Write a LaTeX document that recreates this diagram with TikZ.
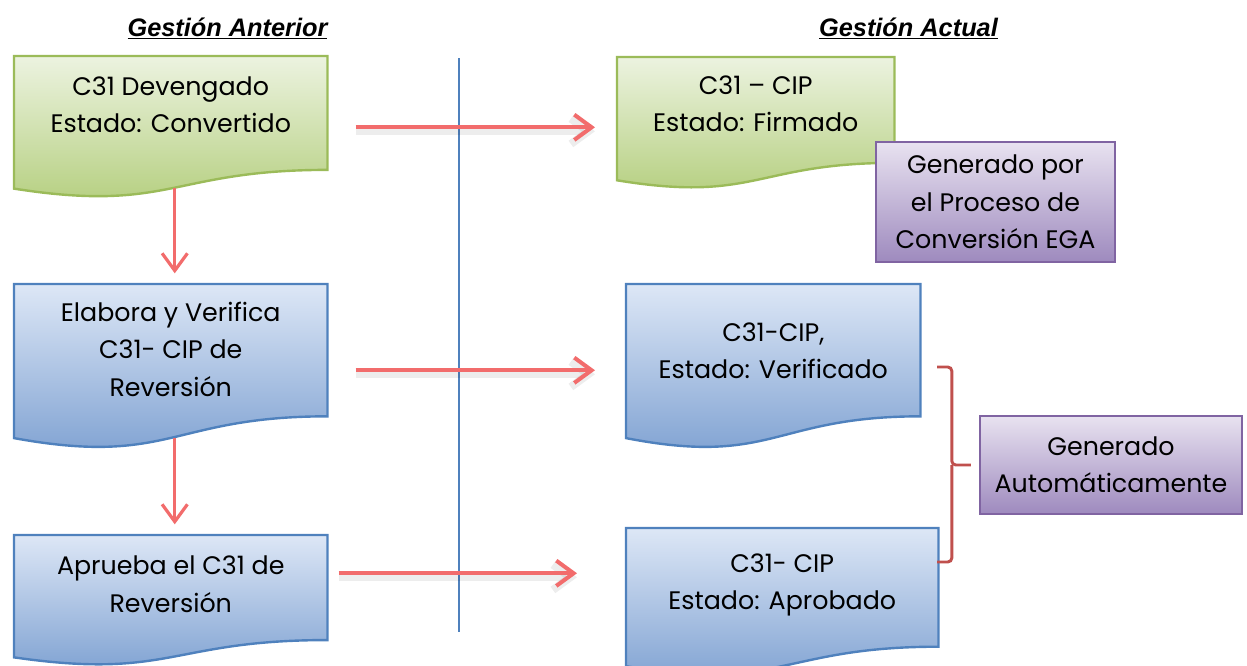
\documentclass[tikz,border=0pt]{standalone}
\usepackage{fontspec}
\setmainfont{Poppins}
\newfontfamily\hdrfont{Liberation Sans}
\usetikzlibrary{arrows.meta,calc,positioning}
\pgfdeclarelayer{bg}
\pgfsetlayers{bg,main}
\definecolor{grnline}{HTML}{9BBB59}
\definecolor{grntop}{RGB}{236,243,224}
\definecolor{grnbot}{RGB}{178,205,122}
\definecolor{bluline}{HTML}{4F81BD}
\definecolor{blutop}{RGB}{221,231,246}
\definecolor{blubot}{RGB}{122,158,208}
\definecolor{purline}{HTML}{8064A2}
\definecolor{purtop}{RGB}{232,226,240}
\definecolor{purbot}{RGB}{158,138,190}
\definecolor{arrred}{RGB}{242,108,108}
\definecolor{brared}{HTML}{C0504D}
\newcommand{\pxu}{0.75pt}
% document shape drawn behind a text node: node, full height, style
\newcommand{\docshape}[3]{%
  \begin{pgfonlayer}{bg}
    \path[#3] (#1.north west) -- (#1.north east) -- ($(#1.north east)+(0,0.802*#2)$)
      .. controls ($(#1.north)+(0,0.802*#2)$) and ($(#1.north)+(0,1.107*#2)$)
      .. ($(#1.north west)+(0,0.934*#2)$) -- cycle;
  \end{pgfonlayer}
  \coordinate (#1 wave) at ($(#1.north)+(0,0.933*#2)$);}

\begin{document}
\begin{tikzpicture}[x=0.75pt,y=-0.75pt,>={Straight Barb[length=13pt,width=19pt]},
    body/.style={anchor=north west,align=center,inner sep=0pt,font=\fontsize{19}{28}\selectfont},
    grndoc/.style={top color=grntop,bottom color=grnbot,draw=grnline,line width=1.8pt},
    bludoc/.style={top color=blutop,bottom color=blubot,draw=bluline,line width=1.8pt},
    genbox/.style={rectangle,top color=purtop,bottom color=purbot,draw=purline,line width=1.8pt,
      align=center,inner sep=0pt,font=\fontsize{19}{28}\selectfont},
    hdr/.style={anchor=base,font=\hdrfont\bfseries\itshape\fontsize{19}{22}\selectfont},
    flow/.style={->,draw=arrred,line width=3pt,
      preaction={draw=black,opacity=0.07,line width=6pt,transform canvas={yshift=-3pt}}},
    down/.style={->,draw=arrred,line width=2.4pt},
    brace/.style={draw=brared,line width=2.2pt,rounded corners=3pt}]
  \useasboundingbox (0,0) rectangle (1247,665);

  % headers
  \node[hdr] (h_ant) at (227.5,36) {\underline{Gestión Anterior}};
  \node[hdr] (h_act) at (908.5,36) {\underline{Gestión Actual}};

  % separator
  \draw[bluline,line width=1.4pt] (459,58) -- (459,632);

  % gestion anterior
  \node[body,minimum width=313*\pxu,minimum height=97*\pxu] (ant_1) at (14,56) {C31 Devengado\\Estado: Convertido};
  \docshape{ant_1}{142}{grndoc}
  \node[body,minimum width=313*\pxu,minimum height=130*\pxu] (ant_2) at (14,284) {Elabora y Verifica\\C31- CIP de\\Reversión};
  \docshape{ant_2}{165}{bludoc}
  \node[body,minimum width=313*\pxu,minimum height=98*\pxu] (ant_3) at (14,535) {Aprueba el C31 de\\Reversión};
  \docshape{ant_3}{131}{bludoc}

  % gestion actual
  \node[body,minimum width=277*\pxu,minimum height=93*\pxu] (act_1) at (617,57) {C31 -- CIP\\Estado: Firmado};
  \docshape{act_1}{132}{grndoc}
  \node[body,minimum width=294*\pxu,minimum height=133*\pxu] (act_2) at (626,284) {C31-CIP,\\Estado: Verificado};
  \docshape{act_2}{165}{bludoc}
  \node[body,minimum width=312*\pxu,minimum height=114*\pxu] (act_3) at (626,528) {C31- CIP\\Estado: Aprobado};
  \docshape{act_3}{148}{bludoc}

  \node[genbox,minimum width=239*\pxu,minimum height=120*\pxu] (gen_1) at (995.5,202) {Generado por\\el Proceso de\\Conversión EGA};
  \node[genbox,minimum width=262*\pxu,minimum height=98*\pxu] (gen_2) at (1111,465) {Generado\\Automáticamente};

  % connectors
  \draw[down,shorten >=8pt] ([xshift=3pt]ant_1 wave) -- ([xshift=3pt]ant_2.north);
  \draw[down,shorten >=8pt] ([xshift=3pt]ant_2 wave) -- ([xshift=3pt]ant_3.north);
  \draw[flow,shorten <=21pt,shorten >=16.5pt] ([yshift=-16.9pt]ant_1.east) -- ([yshift=-16.9pt]ant_1.east -| act_1.west);
  \draw[flow,shorten <=21pt,shorten >=23.25pt] ([yshift=-15.75pt]ant_2.east) -- ([yshift=-15.75pt]ant_2.east -| act_2.west);
  \draw[flow,shorten <=8.25pt,shorten >=36.75pt] ([yshift=8.25pt]ant_3.east) -- ([yshift=8.25pt]ant_3.east -| act_3.west);

  % bracket
  \coordinate (b_top) at (937,367);
  \coordinate (b_bot) at (937,562);
  \draw[brace] (b_top) -| ([xshift=-20.25pt]gen_2.west) -- ([xshift=-6pt]gen_2.west);
  \draw[brace] (b_bot) -| ([xshift=-20.25pt]gen_2.west);
\end{tikzpicture}
\end{document}
